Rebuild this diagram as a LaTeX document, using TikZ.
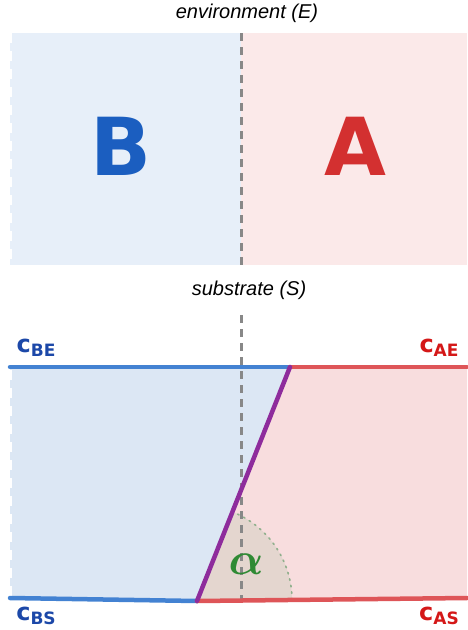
\documentclass[tikz,border=0pt]{standalone}
\usepackage{bm}
\usepackage{fontspec}
\setmainfont{Liberation Sans}
\newfontfamily\labfont{DejaVu Sans}
\definecolor{topblue}{HTML}{E7EFF9}
\definecolor{topred}{HTML}{FBE9E9}
\definecolor{botblue}{HTML}{DCE7F4}
\definecolor{botred}{HTML}{F8DDDE}
\definecolor{lineblue}{HTML}{4382D2}
\definecolor{linered}{HTML}{DE5558}
\definecolor{linepurple}{HTML}{8E2C9C}
\definecolor{letblue}{HTML}{1B5EC0}
\definecolor{letred}{HTML}{D33030}
\definecolor{labblue}{HTML}{1C48A8}
\definecolor{labred}{HTML}{D41818}
\definecolor{wedge}{HTML}{E4D6CF}
\definecolor{alphagreen}{HTML}{2F8A34}
\definecolor{arcgreen}{HTML}{8FAF8C}
\definecolor{dashgrey}{HTML}{888888}
\tikzset{
  caption/.style={font=\fontsize{20}{22}\selectfont\itshape, text=black},
  bigletter/.style={font=\labfont\bfseries\fontsize{80}{80}\selectfont},
  clabel/.style={font=\labfont\bfseries},
  divider/.style={dashgrey, line width=3pt, dash pattern=on 8pt off 6pt},
  edge/.style={line width=4.5pt, line cap=round},
}
\newcommand{\clab}[2]{{\fontsize{24}{24}\selectfont c}{\fontsize{17}{17}\selectfont\raisebox{-4pt}{#2}}}
\begin{document}
\begin{tikzpicture}[x=1pt,y=-1pt]
\useasboundingbox (0,0) rectangle (467,630);
% top panel
\fill[topblue] (10,33) rectangle (241,265);
\fill[topred] (241,33) rectangle (467,265);
\draw[white, line width=2pt, dash pattern=on 10pt off 8pt] (11,33) -- (11,265);
\draw[divider] (241,33) -- (241,265);
\node[caption] (env) at (247,13) {environment (E)};
\node[bigletter, text=letblue] (B) at (121,146) {B};
\node[bigletter, text=letred] (A) at (355,146) {A};
% bottom panel
\node[caption] (sub) at (249,290) {substrate (S)};
\coordinate (BEl) at (10,367);
\coordinate (T) at (290,367);
\coordinate (AEr) at (467,367);
\coordinate (BSl) at (10,598);
\coordinate (O) at (197,601);
\coordinate (ASr) at (467,598);
\fill[botblue] (BEl) -- (T) -- (O) -- (BSl) -- cycle;
\fill[botred] (T) -- (AEr) -- (ASr) -- (O) -- cycle;
\draw[white, line width=2pt, dash pattern=on 10pt off 8pt] (11,370) -- (11,596);
\fill[wedge] (O) -- ++(95,-1) arc[start angle=0, end angle=-68.3, radius=95] -- cycle;
\draw[arcgreen, line width=1.6pt, dash pattern=on 1.6pt off 5pt, line cap=round] (O) ++(95,-1) arc[start angle=0, end angle=-68.3, radius=95];
\draw[divider] (241,315) -- (241,600);
\draw[edge, lineblue] (BEl) -- (T);
\draw[edge, linered] (T) -- (AEr);
\draw[edge, lineblue] (BSl) -- (O);
\draw[edge, linered] (O) -- (ASr);
\draw[edge, linepurple] (O) -- (T);
\node[text=alphagreen] (alpha) at (246,564) {\scalebox{4.6}{$\bm{\alpha}$}};
% labels
\node[clabel, text=labblue] (cBE) at (36,348) {\clab{c}{BE}};
\node[clabel, text=labred] (cAE) at (439,348) {\clab{c}{AE}};
\node[clabel, text=labblue] (cBS) at (36,616) {\clab{c}{BS}};
\node[clabel, text=labred] (cAS) at (439,616) {\clab{c}{AS}};
\end{tikzpicture}
\end{document}
